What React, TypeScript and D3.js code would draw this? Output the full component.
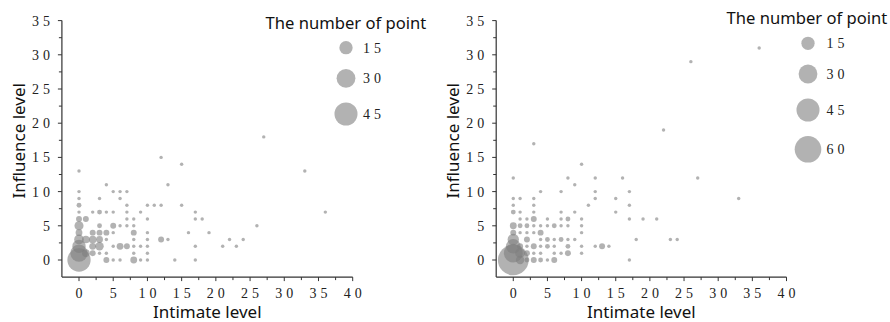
import React from "react";
import * as d3 from "d3";

// [intimate level, influence level, number of points]
const leftPoints: [number, number, number][] = [
  [27, 18, 1], [12, 15, 1], [15, 14, 1], [33, 13, 1], [0, 13, 1], [4, 11, 1], [13, 11, 1],
  [0, 10, 1], [5, 10, 1], [6, 10, 1], [7, 10, 1],
  [0, 9, 1], [3, 9, 1], [6, 9, 1],
  [0, 8, 2], [7, 8, 1], [10, 8, 1], [11, 8, 1], [12, 8, 1], [15, 8, 1],
  [0, 7, 1], [2, 7, 1], [3, 7, 2], [4, 7, 1], [5, 7, 1], [7, 7, 1], [9, 7, 1], [17, 7, 1], [36, 7, 1],
  [0, 6, 3], [1, 6, 3], [7, 6, 1], [8, 6, 1], [10, 6, 1], [17, 6, 1], [18, 6, 1],
  [0, 5, 7], [3, 5, 2], [5, 5, 3], [6, 5, 1], [7, 5, 1], [8, 5, 1], [26, 5, 1],
  [0, 4, 4], [2, 4, 3], [3, 4, 3], [4, 4, 3], [5, 4, 1], [8, 4, 3], [10, 4, 1], [16, 4, 1], [19, 4, 1],
  [0, 3, 8], [1, 3, 5], [2, 3, 5], [3, 3, 4], [4, 3, 1], [8, 3, 1], [10, 3, 1], [12, 3, 3], [13, 3, 1], [22, 3, 1], [24, 3, 1],
  [0, 2, 15], [2, 2, 4], [3, 2, 6], [5, 2, 1], [6, 2, 4], [7, 2, 3], [8, 2, 1], [9, 2, 1], [10, 2, 1], [17, 2, 1], [21, 2, 1], [23, 2, 1],
  [0, 1, 25], [1, 1, 5], [2, 1, 3], [3, 1, 1], [4, 1, 1], [8, 1, 1], [10, 1, 1],
  [0, 0, 46], [4, 0, 3], [5, 0, 1], [6, 0, 1], [8, 0, 4], [9, 0, 1], [10, 0, 1], [14, 0, 1], [17, 0, 1],
];

const rightPoints: [number, number, number][] = [
  [36, 31, 1], [26, 29, 1], [22, 19, 1], [3, 17, 1], [10, 14, 1],
  [0, 12, 1], [8, 12, 1], [12, 12, 1], [16, 12, 1], [27, 12, 1],
  [9, 11, 1],
  [4, 10, 1], [7, 10, 1], [12, 10, 1], [17, 10, 1],
  [0, 9, 1], [1, 9, 1], [3, 9, 1], [12, 9, 1], [15, 9, 1], [33, 9, 1],
  [0, 8, 1], [3, 8, 1], [11, 8, 1], [17, 8, 1],
  [0, 7, 2], [1, 7, 1], [3, 7, 1], [7, 7, 1], [9, 7, 1], [15, 7, 1],
  [1, 6, 1], [2, 6, 1], [3, 6, 3], [5, 6, 1], [7, 6, 1], [8, 6, 2], [10, 6, 1], [17, 6, 1], [19, 6, 1], [21, 6, 1],
  [0, 5, 4], [1, 5, 2], [2, 5, 2], [3, 5, 1], [4, 5, 1], [5, 5, 1], [6, 5, 2], [7, 5, 1], [8, 5, 1], [10, 5, 1],
  [0, 4, 3], [1, 4, 1], [2, 4, 1], [3, 4, 1], [4, 4, 3], [10, 4, 1],
  [0, 3, 11], [2, 3, 3], [4, 3, 1], [5, 3, 2], [6, 3, 1], [7, 3, 2], [8, 3, 1], [9, 3, 1], [18, 3, 1], [23, 3, 1], [24, 3, 1],
  [0, 2, 18], [1, 2, 3], [2, 2, 1], [3, 2, 3], [4, 2, 1], [5, 2, 2], [6, 2, 1], [8, 2, 2], [10, 2, 1], [12, 2, 1], [13, 2, 3], [14, 2, 1],
  [0, 1, 30], [1, 1, 8], [2, 1, 3], [3, 1, 1], [4, 1, 1], [6, 1, 1], [7, 1, 1], [8, 1, 3], [10, 1, 1],
  [0, 0, 80], [1, 0, 6], [2, 0, 2], [3, 0, 3], [4, 0, 2], [5, 0, 1], [6, 0, 3], [17, 0, 1],
];

const leftLegend = [15, 30, 45];
const rightLegend = [15, 30, 45, 60];
const xTicks = [0, 5, 10, 15, 20, 25, 30, 35, 40];
const yTicks = [0, 5, 10, 15, 20, 25, 30, 35];
const xTitle = "Intimate level";
const yTitle = "Influence level";
const legendTitle = "The number of point";

const W = 890;
const H = 322;
const TICK_FONT = "'Liberation Serif', 'DejaVu Serif', serif";
const SANS = "'Noto Sans', 'Open Sans', sans-serif";
const LS = 4;
const DOT_FILL = "#7f7f7f";
const DOT_OP = 0.6;

const rScale = d3.scaleSqrt().domain([0, 60]).range([0, 13.3]);

type PanelProps = {
  points: [number, number, number][];
  legend: number[];
  xRange: [number, number];
  yRange: [number, number];
  legendTitleX: number;
  legendTitleY: number;
  legendCx: number;
  legendYs: number[];
  legendLabelX: number;
};

function Panel(p: PanelProps) {
  const x = d3.scaleLinear().domain([-2.5, 40]).range(p.xRange);
  const y = d3.scaleLinear().domain([-2.5, 35]).range(p.yRange);
  const x0 = p.xRange[0];
  const y0 = p.yRange[0];
  const xMinor = d3.range(2.5, 40, 5);
  const yMinor = d3.range(2.5, 35, 5);
  const axisColor = "#333";
  const textColor = "#222";
  const cx = (p.xRange[0] + p.xRange[1]) / 2;
  const cy = (p.yRange[0] + p.yRange[1]) / 2;
  return (
    <g>
      {p.points.map((d, i) => (
        <circle key={i} cx={x(d[0])} cy={y(d[1])} r={rScale(d[2])} fill={DOT_FILL} fillOpacity={DOT_OP} />
      ))}
      <line x1={x0} x2={x0} y1={y0} y2={p.yRange[1]} stroke={axisColor} strokeWidth={1.2} />
      <line x1={x0} x2={p.xRange[1]} y1={y0} y2={y0} stroke={axisColor} strokeWidth={1.2} />
      {xTicks.map((t) => (
        <g key={"xt" + t}>
          <line x1={x(t)} x2={x(t)} y1={y0} y2={y0 + 4} stroke={axisColor} />
          <text x={x(t)} dx={LS / 2} y={298} textAnchor="middle" fontFamily={TICK_FONT} fontSize={14} letterSpacing={LS} fill={textColor}>
            {t}
          </text>
        </g>
      ))}
      {xMinor.map((t) => (
        <line key={"xm" + t} x1={x(t)} x2={x(t)} y1={y0} y2={y0 + 3} stroke={axisColor} />
      ))}
      {yTicks.map((t) => (
        <g key={"yt" + t}>
          <line x1={x0 - 4} x2={x0} y1={y(t)} y2={y(t)} stroke={axisColor} />
          <text x={x0 - 8} y={y(t)} dy="0.35em" textAnchor="end" fontFamily={TICK_FONT} fontSize={14} letterSpacing={LS} fill={textColor}>
            {t}
          </text>
        </g>
      ))}
      {yMinor.map((t) => (
        <line key={"ym" + t} x1={x0 - 3} x2={x0} y1={y(t)} y2={y(t)} stroke={axisColor} />
      ))}
      <text x={cx} y={318} textAnchor="middle" fontFamily={SANS} fontSize={17} fill="#111">
        {xTitle}
      </text>
      <text transform={`translate(${x0 - 37},${cy - 8}) rotate(-90)`} textAnchor="middle" fontFamily={SANS} fontSize={17} fill="#111">
        {yTitle}
      </text>
      <text x={p.legendTitleX} y={p.legendTitleY} fontFamily={SANS} fontSize={16.6} fill="#111">
        {legendTitle}
      </text>
      {p.legend.map((v, i) => (
        <g key={"lg" + v}>
          <circle cx={p.legendCx} cy={p.legendYs[i]} r={rScale(v)} fill={DOT_FILL} fillOpacity={DOT_OP} />
          <text x={p.legendLabelX} y={p.legendYs[i]} dy="0.35em" fontFamily={TICK_FONT} fontSize={14} letterSpacing={LS} fill={textColor}>
            {v}
          </text>
        </g>
      ))}
    </g>
  );
}

export default function App() {
  return (
    <svg width={W} height={H} style={{ position: "absolute", left: 0, top: 0, background: "#fff" }}>
      <Panel
        points={leftPoints}
        legend={leftLegend}
        xRange={[61.9, 352.7]}
        yRange={[277.1, 20.6]}
        legendTitleX={265.5}
        legendTitleY={29}
        legendCx={346}
        legendYs={[47.7, 78.3, 114]}
        legendLabelX={363}
      />
      <Panel
        points={rightPoints}
        legend={rightLegend}
        xRange={[496.2, 786.5]}
        yRange={[277.1, 20.6]}
        legendTitleX={726.5}
        legendTitleY={24}
        legendCx={808}
        legendYs={[43.3, 74, 110, 149.3]}
        legendLabelX={826.5}
      />
    </svg>
  );
}
